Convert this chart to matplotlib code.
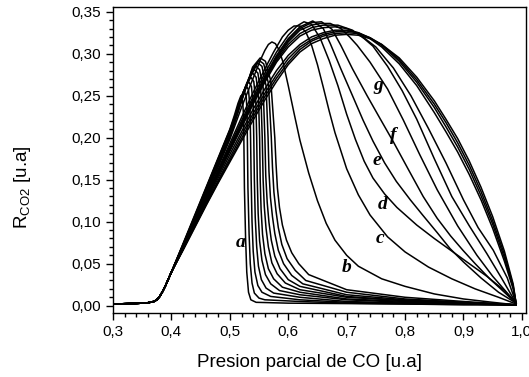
"""R_CO2 vs CO partial pressure, family of curves a-g."""

import matplotlib.pyplot as plt
from matplotlib.ticker import MultipleLocator, FuncFormatter


# ================================ DATA ======================================

# shared low-pressure front (all curves coincide here)
front_x = [0.30, 0.33, 0.35, 0.36, 0.37, 0.375, 0.38, 0.385, 0.39, 0.395, 0.40]
front_y = [0.002, 0.0025, 0.003, 0.0035, 0.005, 0.007, 0.011, 0.017, 0.024, 0.032, 0.040]

# sharp-collapse group (curve a and the ones just after it)
a_x = [0.42, 0.44, 0.46, 0.48, 0.50, 0.508, 0.514, 0.519, 0.522, 0.5235, 0.524, 0.525, 0.527, 0.529, 0.532, 0.536, 0.545, 0.60, 0.80, 0.99]
a_y = [0.074, 0.108, 0.142, 0.176, 0.210, 0.227, 0.241, 0.250, 0.244, 0.225, 0.200, 0.140, 0.080, 0.040, 0.016, 0.007, 0.004, 0.003, 0.002, 0.001]

a1_x = [0.42, 0.44, 0.46, 0.48, 0.50, 0.51, 0.518, 0.524, 0.528, 0.5295, 0.530, 0.531, 0.533, 0.535, 0.538, 0.542, 0.55, 0.56, 0.62, 0.70, 0.80, 0.90, 0.99]
a1_y = [0.073, 0.107, 0.141, 0.175, 0.209, 0.228, 0.246, 0.256, 0.250, 0.230, 0.200, 0.140, 0.085, 0.050, 0.027, 0.015, 0.009, 0.007, 0.005, 0.003, 0.002, 0.001, 0.001]

a2_x = [0.42, 0.44, 0.46, 0.48, 0.50, 0.512, 0.521, 0.528, 0.532, 0.5345, 0.5355, 0.5365, 0.538, 0.540, 0.543, 0.548, 0.555, 0.57, 0.62, 0.70, 0.80, 0.90, 0.99]
a2_y = [0.073, 0.106, 0.140, 0.174, 0.208, 0.232, 0.251, 0.262, 0.257, 0.235, 0.200, 0.150, 0.100, 0.065, 0.040, 0.024, 0.016, 0.011, 0.007, 0.004, 0.003, 0.002, 0.001]

a3_x = [0.42, 0.44, 0.46, 0.48, 0.50, 0.514, 0.524, 0.532, 0.537, 0.540, 0.541, 0.542, 0.5435, 0.546, 0.549, 0.554, 0.562, 0.575, 0.62, 0.70, 0.80, 0.90, 0.99]
a3_y = [0.072, 0.105, 0.139, 0.173, 0.207, 0.236, 0.256, 0.267, 0.261, 0.238, 0.200, 0.150, 0.105, 0.070, 0.047, 0.031, 0.021, 0.015, 0.010, 0.005, 0.003, 0.002, 0.001]

a4_x = [0.42, 0.44, 0.46, 0.48, 0.50, 0.515, 0.527, 0.536, 0.541, 0.5445, 0.546, 0.547, 0.5485, 0.551, 0.555, 0.561, 0.57, 0.585, 0.62, 0.70, 0.80, 0.90, 0.99]
a4_y = [0.072, 0.105, 0.138, 0.172, 0.206, 0.238, 0.261, 0.272, 0.267, 0.243, 0.200, 0.150, 0.110, 0.077, 0.054, 0.037, 0.026, 0.018, 0.013, 0.007, 0.004, 0.002, 0.001]

a5_x = [0.42, 0.44, 0.46, 0.48, 0.50, 0.516, 0.529, 0.539, 0.545, 0.549, 0.551, 0.552, 0.5535, 0.556, 0.560, 0.566, 0.575, 0.59, 0.62, 0.70, 0.80, 0.90, 0.99]
a5_y = [0.072, 0.104, 0.137, 0.171, 0.205, 0.240, 0.265, 0.277, 0.272, 0.250, 0.200, 0.150, 0.115, 0.085, 0.062, 0.044, 0.032, 0.022, 0.016, 0.008, 0.005, 0.003, 0.001]

a6_x = [0.42, 0.44, 0.46, 0.48, 0.50, 0.518, 0.532, 0.542, 0.548, 0.553, 0.5555, 0.557, 0.559, 0.562, 0.566, 0.572, 0.581, 0.595, 0.62, 0.70, 0.80, 0.90, 0.99]
a6_y = [0.071, 0.104, 0.137, 0.170, 0.204, 0.243, 0.270, 0.281, 0.277, 0.255, 0.200, 0.150, 0.118, 0.092, 0.070, 0.051, 0.038, 0.027, 0.019, 0.010, 0.006, 0.003, 0.001]

a7_x = [0.42, 0.44, 0.46, 0.48, 0.50, 0.52, 0.535, 0.545, 0.551, 0.557, 0.560, 0.5615, 0.564, 0.567, 0.571, 0.577, 0.586, 0.60, 0.62, 0.70, 0.80, 0.90, 0.99]
a7_y = [0.071, 0.103, 0.136, 0.169, 0.203, 0.246, 0.274, 0.285, 0.281, 0.260, 0.200, 0.155, 0.123, 0.099, 0.078, 0.059, 0.044, 0.031, 0.023, 0.011, 0.006, 0.003, 0.001]

a8_x = [0.42, 0.44, 0.46, 0.48, 0.50, 0.52, 0.537, 0.548, 0.555, 0.562, 0.5655, 0.567, 0.5695, 0.573, 0.577, 0.583, 0.592, 0.606, 0.625, 0.70, 0.80, 0.90, 0.99]
a8_y = [0.071, 0.103, 0.136, 0.169, 0.202, 0.245, 0.278, 0.289, 0.285, 0.262, 0.200, 0.160, 0.129, 0.106, 0.086, 0.066, 0.050, 0.036, 0.026, 0.013, 0.007, 0.004, 0.001]

a9_x = [0.42, 0.44, 0.46, 0.48, 0.50, 0.52, 0.538, 0.550, 0.558, 0.566, 0.571, 0.573, 0.5755, 0.579, 0.583, 0.589, 0.598, 0.612, 0.63, 0.70, 0.80, 0.90, 0.99]
a9_y = [0.070, 0.102, 0.135, 0.168, 0.201, 0.244, 0.281, 0.292, 0.288, 0.265, 0.200, 0.165, 0.135, 0.113, 0.093, 0.073, 0.056, 0.042, 0.030, 0.016, 0.008, 0.004, 0.001]

a10_x = [0.42, 0.44, 0.46, 0.48, 0.50, 0.52, 0.539, 0.552, 0.561, 0.570, 0.577, 0.579, 0.5815, 0.585, 0.590, 0.597, 0.606, 0.618, 0.635, 0.70, 0.80, 0.90, 0.99]
a10_y = [0.070, 0.102, 0.135, 0.167, 0.200, 0.243, 0.284, 0.295, 0.291, 0.268, 0.200, 0.170, 0.140, 0.117, 0.096, 0.078, 0.063, 0.050, 0.037, 0.019, 0.010, 0.005, 0.001]

# smoother curves b..i
b_x = [0.42, 0.44, 0.46, 0.48, 0.50, 0.52, 0.54, 0.552, 0.560, 0.566, 0.572, 0.578, 0.584, 0.591, 0.600, 0.610, 0.620, 0.635, 0.650, 0.665, 0.680, 0.70, 0.72, 0.76, 0.80, 0.85, 0.90, 0.95, 0.99]
b_y = [0.070, 0.101, 0.133, 0.165, 0.198, 0.236, 0.271, 0.292, 0.304, 0.311, 0.314, 0.312, 0.305, 0.290, 0.262, 0.229, 0.197, 0.158, 0.125, 0.098, 0.078, 0.060, 0.047, 0.032, 0.023, 0.014, 0.008, 0.004, 0.001]

c_x = [0.42, 0.44, 0.46, 0.48, 0.50, 0.52, 0.54, 0.56, 0.575, 0.59, 0.60, 0.61, 0.62, 0.63, 0.64, 0.65, 0.66, 0.67, 0.68, 0.70, 0.72, 0.74, 0.77, 0.80, 0.84, 0.88, 0.92, 0.96, 0.99]
c_y = [0.069, 0.100, 0.131, 0.162, 0.193, 0.224, 0.254, 0.282, 0.302, 0.320, 0.328, 0.333, 0.333, 0.326, 0.310, 0.287, 0.260, 0.232, 0.206, 0.163, 0.132, 0.108, 0.082, 0.064, 0.046, 0.032, 0.020, 0.010, 0.002]

d_x = [0.42, 0.44, 0.46, 0.48, 0.50, 0.52, 0.54, 0.56, 0.58, 0.60, 0.615, 0.627, 0.64, 0.655, 0.67, 0.685, 0.70, 0.715, 0.73, 0.745, 0.765, 0.786, 0.82, 0.85, 0.88, 0.91, 0.94, 0.97, 0.99]
d_y = [0.069, 0.099, 0.130, 0.160, 0.190, 0.220, 0.249, 0.277, 0.302, 0.322, 0.333, 0.338, 0.335, 0.318, 0.292, 0.262, 0.228, 0.198, 0.172, 0.152, 0.133, 0.117, 0.096, 0.080, 0.065, 0.050, 0.035, 0.018, 0.003]

e_x = [0.42, 0.44, 0.46, 0.48, 0.50, 0.52, 0.54, 0.56, 0.58, 0.60, 0.62, 0.642, 0.66, 0.672, 0.69, 0.71, 0.728, 0.745, 0.765, 0.785, 0.809, 0.83, 0.855, 0.877, 0.90, 0.93, 0.96, 0.99]
e_y = [0.069, 0.099, 0.129, 0.159, 0.188, 0.217, 0.246, 0.273, 0.298, 0.318, 0.332, 0.339, 0.330, 0.312, 0.282, 0.250, 0.221, 0.196, 0.170, 0.148, 0.126, 0.108, 0.087, 0.068, 0.052, 0.033, 0.016, 0.003]

f_x = [0.42, 0.44, 0.46, 0.48, 0.50, 0.52, 0.54, 0.56, 0.58, 0.60, 0.62, 0.64, 0.657, 0.675, 0.69, 0.71, 0.735, 0.757, 0.78, 0.805, 0.831, 0.855, 0.878, 0.899, 0.92, 0.945, 0.97, 0.99]
f_y = [0.068, 0.098, 0.128, 0.158, 0.187, 0.216, 0.244, 0.271, 0.296, 0.316, 0.330, 0.337, 0.338, 0.329, 0.310, 0.282, 0.250, 0.223, 0.195, 0.163, 0.130, 0.104, 0.083, 0.066, 0.050, 0.032, 0.016, 0.003]

g_x = [0.42, 0.44, 0.46, 0.48, 0.50, 0.52, 0.54, 0.56, 0.58, 0.60, 0.62, 0.64, 0.655, 0.672, 0.69, 0.705, 0.718, 0.74, 0.77, 0.797, 0.825, 0.855, 0.89, 0.923, 0.95, 0.975, 0.99]
g_y = [0.068, 0.098, 0.128, 0.157, 0.186, 0.215, 0.243, 0.270, 0.294, 0.314, 0.328, 0.334, 0.336, 0.336, 0.330, 0.320, 0.310, 0.290, 0.258, 0.221, 0.180, 0.138, 0.095, 0.060, 0.035, 0.015, 0.003]

h_x = [0.42, 0.44, 0.46, 0.48, 0.50, 0.52, 0.54, 0.56, 0.58, 0.60, 0.62, 0.64, 0.66, 0.685, 0.71, 0.73, 0.745, 0.77, 0.795, 0.82, 0.85, 0.88, 0.91, 0.94, 0.965, 0.99]
h_y = [0.068, 0.097, 0.127, 0.156, 0.185, 0.214, 0.242, 0.268, 0.292, 0.311, 0.324, 0.331, 0.334, 0.334, 0.328, 0.318, 0.309, 0.285, 0.256, 0.222, 0.175, 0.130, 0.095, 0.062, 0.033, 0.003]

i_x = [0.42, 0.44, 0.46, 0.48, 0.50, 0.52, 0.54, 0.56, 0.58, 0.60, 0.62, 0.64, 0.66, 0.68, 0.70, 0.72, 0.75, 0.78, 0.81, 0.84, 0.87, 0.90, 0.925, 0.951, 0.975, 0.99]
i_y = [0.068, 0.097, 0.126, 0.155, 0.184, 0.212, 0.240, 0.266, 0.290, 0.308, 0.321, 0.328, 0.331, 0.332, 0.330, 0.324, 0.308, 0.283, 0.250, 0.211, 0.170, 0.126, 0.093, 0.066, 0.033, 0.003]

# outer envelope bundle
bundle_x = [0.42, 0.44, 0.46, 0.48, 0.50, 0.52, 0.54, 0.56, 0.58, 0.60, 0.62, 0.64, 0.66, 0.68, 0.70, 0.72, 0.74, 0.76, 0.79, 0.82, 0.85, 0.87, 0.89, 0.91, 0.93, 0.95, 0.97, 0.985, 0.99]
bundle_y1 = [0.068, 0.096, 0.124, 0.152, 0.180, 0.207, 0.234, 0.258, 0.280, 0.298, 0.311, 0.320, 0.325, 0.328, 0.328, 0.325, 0.318, 0.308, 0.288, 0.262, 0.230, 0.207, 0.183, 0.156, 0.126, 0.092, 0.053, 0.020, 0.003]
bundle_y2 = [0.067, 0.095, 0.122, 0.149, 0.176, 0.203, 0.229, 0.253, 0.275, 0.294, 0.308, 0.317, 0.323, 0.326, 0.327, 0.325, 0.319, 0.310, 0.291, 0.266, 0.236, 0.213, 0.189, 0.162, 0.131, 0.097, 0.057, 0.022, 0.003]
bundle_y3 = [0.067, 0.094, 0.121, 0.147, 0.173, 0.199, 0.225, 0.249, 0.271, 0.290, 0.305, 0.315, 0.321, 0.324, 0.325, 0.324, 0.319, 0.311, 0.293, 0.269, 0.240, 0.218, 0.194, 0.167, 0.136, 0.101, 0.061, 0.024, 0.003]
bundle_y4 = [0.066, 0.093, 0.120, 0.146, 0.171, 0.196, 0.221, 0.245, 0.267, 0.287, 0.302, 0.312, 0.318, 0.322, 0.323, 0.322, 0.318, 0.311, 0.295, 0.272, 0.244, 0.222, 0.199, 0.172, 0.141, 0.106, 0.065, 0.026, 0.003]

# curve labels and where they sit
labels = ['a', 'b', 'c', 'd', 'e', 'f', 'g']
label_x = [0.519, 0.700, 0.757, 0.761, 0.752, 0.779, 0.754]
label_y = [0.075, 0.045, 0.080, 0.120, 0.173, 0.203, 0.262]


# ================================ PLOT ======================================

plt.rcParams['font.family'] = ['Liberation Sans', 'DejaVu Sans']

fig = plt.figure(figsize=(5.29, 3.77), dpi=100)
ax = fig.add_axes([0.2136, 0.1698, 0.7807, 0.8116])

curves = [
    (a_x, a_y), (a1_x, a1_y), (a2_x, a2_y), (a3_x, a3_y), (a4_x, a4_y),
    (a5_x, a5_y), (a6_x, a6_y), (a7_x, a7_y), (a8_x, a8_y), (a9_x, a9_y),
    (a10_x, a10_y), (b_x, b_y), (c_x, c_y), (d_x, d_y), (e_x, e_y),
    (f_x, f_y), (g_x, g_y), (h_x, h_y), (i_x, i_y),
    (bundle_x, bundle_y1), (bundle_x, bundle_y2),
    (bundle_x, bundle_y3), (bundle_x, bundle_y4),
]

for cx, cy in curves:
    ax.plot(front_x + cx, front_y + cy, color='black', lw=1.1)

for lab, lx, ly in zip(labels, label_x, label_y):
    ax.text(lx, ly, lab, family='Liberation Serif', style='italic',
            weight='bold', fontsize=14, ha='center', va='center')

ax.set_xlim(0.3, 1.007)
ax.set_ylim(-0.0087, 0.3556)

ax.xaxis.set_major_locator(MultipleLocator(0.1))
ax.xaxis.set_minor_locator(MultipleLocator(0.02))
ax.yaxis.set_major_locator(MultipleLocator(0.05))
ax.yaxis.set_minor_locator(MultipleLocator(0.01))

ax.xaxis.set_major_formatter(FuncFormatter(lambda v, p: f'{v:.1f}'.replace('.', ',')))
ax.yaxis.set_major_formatter(FuncFormatter(lambda v, p: f'{v:.2f}'.replace('.', ',')))

ax.tick_params(which='both', direction='out', top=False, right=False,
               labelsize=11, width=1)
ax.tick_params(which='major', length=5)
ax.tick_params(which='minor', length=3)

for sp in ax.spines.values():
    sp.set_linewidth(1)

ax.set_xlabel('Presion parcial de CO [u.a]', fontsize=13.5)
ax.xaxis.set_label_coords(0.477, -0.135)
ax.set_ylabel('R$_{\\mathregular{CO2}}$ [u.a]', fontsize=13.5, va='center')
ax.yaxis.set_label_coords(-0.22, 0.41)

fig.savefig('out.png', dpi=100)
